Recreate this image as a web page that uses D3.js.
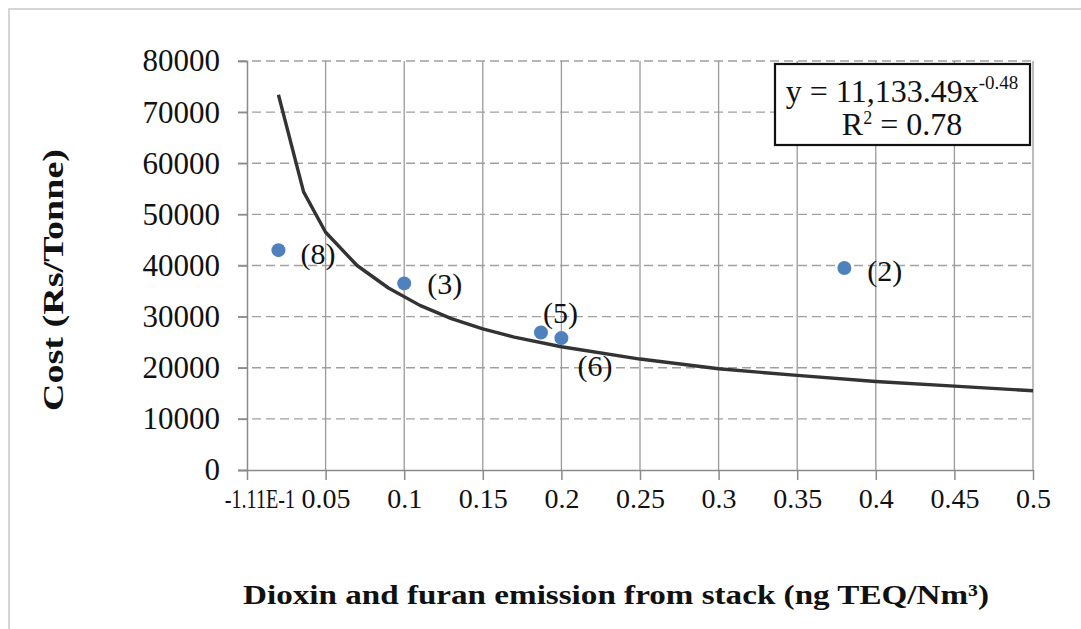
<!DOCTYPE html>
<html><head><meta charset="utf-8">
<script src="https://cdn.jsdelivr.net/npm/d3@7"></script>
<style>
html,body{margin:0;padding:0;background:#fff;}
svg{display:block;}
text{font-family:"Liberation Serif","Times New Roman",serif;fill:#111;}
</style></head>
<body><svg id="c" width="1081" height="629"></svg>
<script>
// ---- data ----
const pointLabels = ["(8)", "(3)", "(5)", "(6)", "(2)"];
const emission = [0.02, 0.10, 0.187, 0.20, 0.38];
const cost = [43000, 36500, 26900, 25800, 39500];

// trendline
const trendX = [0.02, 0.036, 0.05, 0.07, 0.09, 0.11, 0.13, 0.15, 0.17, 0.20, 0.25, 0.30, 0.35, 0.40, 0.45, 0.50];
const trendY = [73400, 54400, 46500, 40000, 35600, 32200, 29600, 27600, 26000, 24100, 21700, 19800, 18500, 17300, 16400, 15500];

const xTicks = [0, 0.05, 0.1, 0.15, 0.2, 0.25, 0.3, 0.35, 0.4, 0.45, 0.5];
const xTickLabels = ["-1.11E-1", "0.05", "0.1", "0.15", "0.2", "0.25", "0.3", "0.35", "0.4", "0.45", "0.5"];
const yTicks = [0, 10000, 20000, 30000, 40000, 50000, 60000, 70000, 80000];

const xTitle = "Dioxin and furan emission  from stack (ng TEQ/Nm\u00B3)";
const yTitle = "Cost (Rs/Tonne)";

// ---- layout ----
const svg = d3.select("#c");
const x = d3.scaleLinear().domain([0, 0.5]).range([247, 1033]);
const y = d3.scaleLinear().domain([0, 80000]).range([470, 61]);

// outer frame (only top/left visible)
svg.append("rect").attr("x", 9).attr("y", 9).attr("width", 1200).attr("height", 800)
  .attr("fill", "none").attr("stroke", "#c8c8c8").attr("stroke-width", 1.5);

const grid = svg.append("g");
grid.selectAll("line.h").data(yTicks.filter(d => d > 0)).join("line")
  .attr("x1", 238).attr("x2", x(0.5))
  .attr("y1", d => y(d)).attr("y2", d => y(d))
  .attr("stroke", "#a0a0a0").attr("stroke-width", 1.3).attr("stroke-dasharray", "9,5");
grid.selectAll("line.v").data(xTicks.filter(d => d > 0)).join("line")
  .attr("x1", d => x(d)).attr("x2", d => x(d))
  .attr("y1", y(80000)).attr("y2", y(0))
  .attr("stroke", "#9a9a9a").attr("stroke-width", 1.3);

// y axis
const yAxis = svg.append("g").attr("transform", `translate(${x(0)},0)`)
  .call(d3.axisLeft(y).tickValues(yTicks).tickSize(9).tickPadding(18).tickFormat(d3.format("d")));
yAxis.select(".domain").attr("stroke", "#8a8a8a").attr("stroke-width", 1.5);
yAxis.selectAll(".tick line").attr("stroke", "#8a8a8a").attr("stroke-width", 1.5);
yAxis.selectAll("text").attr("font-size", 31).attr("font-family", "Liberation Serif").attr("fill", "#111");

// x axis
const xAxis = svg.append("g").attr("transform", `translate(0,${y(0)})`)
  .call(d3.axisBottom(x).tickValues(xTicks).tickSize(10).tickPadding(8)
    .tickFormat((d, i) => xTickLabels[i]));
xAxis.select(".domain").attr("stroke", "#8a8a8a").attr("stroke-width", 1.5)
  .attr("d", `M${x(0) - 9},0.5H${x(0.5)}`);
xAxis.selectAll(".tick line").attr("stroke", "#8a8a8a").attr("stroke-width", 1.5);
xAxis.selectAll("text").attr("font-size", 28).attr("font-family", "Liberation Serif").attr("fill", "#111");
xAxis.selectAll(".tick text").filter((d, i) => i === 0)
  .attr("text-anchor", "end").attr("x", 0)
  .attr("transform", `translate(${x(0.05) - x(0) - 31},0) scale(0.72,1)`);

// trendline
const line = d3.line().x(d => x(d[0])).y(d => y(d[1]));
svg.append("path").datum(trendX.map((v, i) => [v, trendY[i]]))
  .attr("d", line).attr("fill", "none").attr("stroke", "#333").attr("stroke-width", 3.4)
  .attr("stroke-linejoin", "round");

// points
svg.selectAll("circle.pt").data(emission).join("circle")
  .attr("cx", d => x(d)).attr("cy", (d, i) => y(cost[i])).attr("r", 7)
  .attr("fill", "#4F81BD");

// point labels
const labelOffset = {"(8)": [22, 14], "(3)": [23, 11], "(5)": [2, -9], "(6)": [16, 38], "(2)": [23, 13]};
svg.selectAll("text.pl").data(pointLabels).join("text")
  .attr("x", (d, i) => x(emission[i]) + labelOffset[d][0])
  .attr("y", (d, i) => y(cost[i]) + labelOffset[d][1])
  .attr("font-size", 30).text(d => d);

// equation box
svg.append("rect").attr("x", 775).attr("y", 64).attr("width", 255).attr("height", 81)
  .attr("fill", "#fff").attr("stroke", "#111").attr("stroke-width", 2.2);
const eq = svg.append("text").attr("x", 902).attr("y", 102).attr("text-anchor", "middle").attr("font-size", 32);
eq.append("tspan").text("y = 11,133.49x");
eq.append("tspan").attr("font-size", 19).attr("dy", -13).text("-0.48");
const r2 = svg.append("text").attr("x", 902).attr("y", 135).attr("text-anchor", "middle").attr("font-size", 32);
r2.append("tspan").text("R");
r2.append("tspan").attr("font-size", 18).attr("dy", -11).text("2");
r2.append("tspan").attr("dy", 11).text(" = 0.78");

// axis titles
svg.append("text").attr("x", 616).attr("y", 604).attr("text-anchor", "middle")
  .attr("font-size", 28).attr("font-weight", "bold")
  .attr("textLength", 746).attr("lengthAdjust", "spacingAndGlyphs").text(xTitle);
svg.append("text").attr("transform", "translate(63,280) rotate(-90)")
  .attr("text-anchor", "middle").attr("font-size", 29).attr("font-weight", "bold")
  .attr("textLength", 262).attr("lengthAdjust", "spacingAndGlyphs").text(yTitle);
</script></body></html>
